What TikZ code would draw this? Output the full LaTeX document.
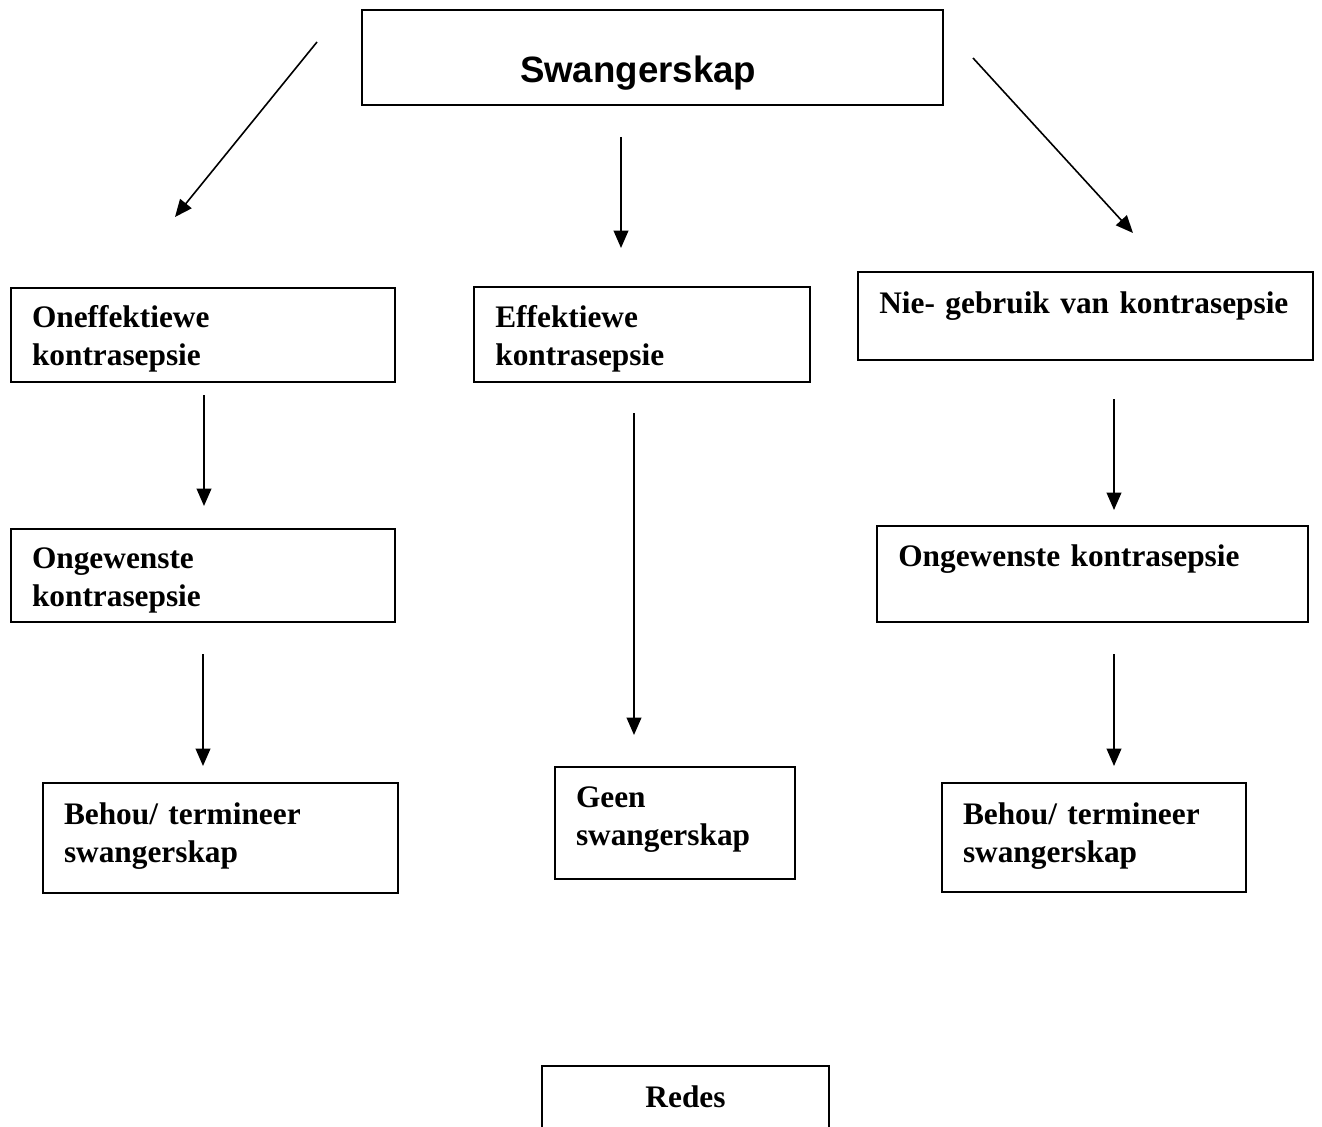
\documentclass[tikz,border=0pt]{standalone}
\usepackage{fontspec}
\setmainfont{Liberation Serif}
\newfontfamily\arialfont{Liberation Sans}
\usetikzlibrary{arrows.meta}
\begin{document}
\begin{tikzpicture}[
            x=0.75pt, y=-0.75pt,
            every node/.style={rectangle, align=left},
            blok/.style={draw, line width=1.5pt, anchor=base west, inner ysep=0pt,
                inner xsep=16pt, font=\fontsize{23.5}{28.5}\selectfont\bfseries},
            pyl/.style={draw, line width=1.2pt, -{Triangle[length=13pt,width=11pt]}}]
        \useasboundingbox (0,0) rectangle (1322,1127);
        % boxes
        \node [blok, inner xsep=118.5pt, text width=198.75pt, text height=54.75pt,
            text depth=16.5pt, font=\arialfont\fontsize{27.5}{30}\selectfont\bfseries]
            (top) at (361,83) {Swangerskap};
        \node [blok, inner xsep=15.75pt, text width=256.5pt, text height=29.25pt, text depth=41.25pt]
            (oneff) at (10,327) {Oneffektiewe\\kontrasepsie};
        \node [blok, text width=219.75pt, text height=30pt, text depth=41.25pt]
            (eff) at (473,327) {Effektiewe\\kontrasepsie};
        \node [blok, text width=309pt, text height=30.75pt, text depth=35.25pt]
            (nie) at (857,313) {Nie- gebruik van kontrasepsie};
        \node [blok, inner xsep=15.75pt, text width=256.5pt, text height=29.25pt, text depth=40.5pt]
            (ongL) at (10,568) {Ongewenste\\kontrasepsie};
        \node [blok, text width=291pt, text height=30pt, text depth=42pt]
            (ongR) at (876,566) {Ongewenste kontrasepsie};
        \node [blok, inner xsep=15.75pt, text width=234.75pt, text height=30.75pt, text depth=51.75pt]
            (behL) at (42,824) {Behou/ termineer\\swangerskap};
        \node [blok, inner xsep=15.75pt, text width=148.5pt, text height=30pt, text depth=54pt]
            (geen) at (554,807) {Geen\\swangerskap};
        \node [blok, inner xsep=15.75pt, text width=196.5pt, text height=30.75pt, text depth=51pt]
            (behR) at (941,824) {Behou/ termineer\\swangerskap};
        \node [blok, align=center, inner xsep=15.75pt, text width=183.75pt, text height=30.75pt,
            text depth=26pt] (redes) at (541,1107) {Redes};
        % arrow ends
        \coordinate (a1) at (317,42);   \coordinate (b1) at (175,217);
        \coordinate (a2) at (621,137);  \coordinate (b2) at (621,248);
        \coordinate (a3) at (973,58);   \coordinate (b3) at (1133,233);
        \coordinate (a4) at (204,395);  \coordinate (b4) at (204,506);
        \coordinate (a5) at (634,413);  \coordinate (b5) at (634,735);
        \coordinate (a6) at (1114,399); \coordinate (b6) at (1114,510);
        \coordinate (a7) at (203,654);  \coordinate (b7) at (203,766);
        \coordinate (a8) at (1114,654); \coordinate (b8) at (1114,766);
        \foreach \i in {1,...,8}
            \draw [pyl] (a\i) -- (b\i);
    \end{tikzpicture}
\end{document}
